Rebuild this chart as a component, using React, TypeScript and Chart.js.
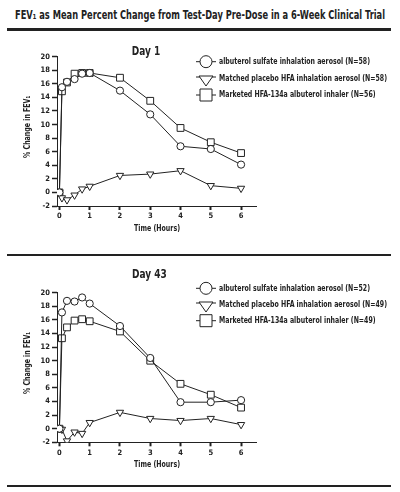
import { useEffect, useRef } from "react";
import { Chart, registerables } from "chart.js";

Chart.register(...registerables);

const FONT = "'Liberation Sans Narrow', 'DejaVu Sans Condensed', 'Arial Narrow', sans-serif";
const INK = "#222";

// time after dose, hours
const hours = [0, 0.083, 0.25, 0.5, 0.75, 1, 2, 3, 4, 5, 6];
const hourTicks = [0, 1, 2, 3, 4, 5, 6];

const day1Albuterol = [0, 15.5, 16.3, 16.7, 17.5, 17.6, 15.0, 11.5, 6.8, 6.4, 4.1];
const day1Placebo = [0, -0.8, -1.1, -0.4, 0.5, 0.9, 2.5, 2.7, 3.2, 1.0, 0.6];
const day1Marketed = [0, 14.9, 16.2, 17.5, 17.6, 17.6, 16.9, 13.5, 9.5, 7.4, 5.8];

const day43Albuterol = [0, 17.1, 18.8, 18.7, 19.3, 18.4, 15.1, 10.4, 3.9, 3.9, 4.2];
const day43Placebo = [0, -0.1, -1.8, -0.5, -0.7, 0.9, 2.4, 1.5, 1.2, 1.5, 0.6];
const day43Marketed = [0, 13.3, 14.9, 15.9, 16.1, 15.8, 14.3, 10.0, 6.6, 5.0, 3.1];

const day1Legend = [
  "albuterol sulfate inhalation aerosol (N=58)",
  "Matched placebo HFA inhalation aerosol (N=58)",
  "Marketed HFA-134a albuterol inhaler (N=56)",
];
const day43Legend = [
  "albuterol sulfate inhalation aerosol (N=52)",
  "Matched placebo HFA inhalation aerosol (N=49)",
  "Marketed HFA-134a albuterol inhaler (N=49)",
];

const pageTitle = "FEV\u2081 as Mean Percent Change from Test-Day Pre-Dose in a 6-Week Clinical Trial";
const xTitle = "Time (Hours)";
const yTitle = "% Change in FEV\u2081";

const shapes = ["circle", "triangle", "rect"];

type PanelProps = {
  title: string;
  legend: string[];
  series: number[][];
  top: number;
  height: number;
  areaTop: number;
  areaBottom: number;
  titleX: number;
  titleY: number;
  xTitleY: number;
  legendY: number[];
};

// the narrow face is not installed, so squeeze the fallback face horizontally
function narrowText(
  ctx: CanvasRenderingContext2D,
  text: string,
  x: number,
  y: number,
  squeeze: number,
  align: "left" | "center",
) {
  const w = ctx.measureText(text).width * squeeze;
  const left = align === "center" ? x - w / 2 : x;
  ctx.save();
  ctx.translate(left, y);
  ctx.scale(squeeze, 1);
  ctx.textAlign = "left";
  ctx.textBaseline = "middle";
  ctx.fillText(text, 0, 0);
  ctx.restore();
}

function drawLegendMark(ctx: CanvasRenderingContext2D, shape: string, cx: number, cy: number) {
  ctx.beginPath();
  if (shape === "triangle") {
    ctx.moveTo(cx - 10, cy - 2);
    ctx.lineTo(cx + 10, cy - 2);
  } else {
    ctx.moveTo(cx - 10, cy);
    ctx.lineTo(cx + 10, cy);
  }
  ctx.stroke();
  ctx.beginPath();
  if (shape === "circle") {
    ctx.arc(cx, cy, 6, 0, Math.PI * 2);
  } else if (shape === "triangle") {
    ctx.moveTo(cx - 7, cy - 3);
    ctx.lineTo(cx + 7, cy - 3);
    ctx.lineTo(cx, cy + 7);
    ctx.closePath();
  } else {
    ctx.rect(cx - 6, cy - 6, 12, 12);
  }
  ctx.fillStyle = "#fff";
  ctx.fill();
  ctx.stroke();
}

function Panel(props: PanelProps) {
  const ref = useRef<HTMLCanvasElement>(null);

  useEffect(() => {
    if (!ref.current) return;
    const xHeight = props.height - props.areaBottom;

    const decor = {
      id: "panelDecor",
      afterDraw(chart: Chart) {
        const ctx = chart.ctx;
        const area = chart.chartArea;
        ctx.save();
        ctx.fillStyle = INK;
        ctx.strokeStyle = INK;
        ctx.lineWidth = 1;

        ctx.font = `bold 13px ${FONT}`;
        const titleSqueeze = Math.min(1, 28.5 / ctx.measureText("Day 1").width);
        narrowText(ctx, props.title, props.titleX, props.titleY, titleSqueeze, "center");

        ctx.font = `bold 9px ${FONT}`;
        const legendSqueeze = Math.min(1, 168 / ctx.measureText(day1Legend[1]).width);
        props.legend.forEach((label, i) => {
          const y = props.legendY[i];
          drawLegendMark(ctx, shapes[i], 206, y);
          ctx.fillStyle = INK;
          narrowText(ctx, label, 219, y, legendSqueeze, "left");
        });

        const axisSqueeze = Math.min(1, 46 / ctx.measureText(xTitle).width);
        narrowText(ctx, xTitle, 157, props.xTitleY, axisSqueeze, "center");

        ctx.save();
        ctx.translate(28, (area.top + area.bottom) / 2 - 4.5);
        ctx.rotate(-Math.PI / 2);
        narrowText(ctx, yTitle, 0, 0, axisSqueeze, "center");
        ctx.restore();

        ctx.restore();
      },
    };

    const radii = [3.6, 4.2, 4.8];
    const chart = new Chart(ref.current, {
      type: "line",
      data: {
        datasets: props.series.map((values, i) => ({
          label: props.legend[i],
          data: values.map((v, j) => ({ x: hours[j], y: v })),
          borderColor: INK,
          borderWidth: 1,
          pointStyle: shapes[i] as any,
          pointRotation: shapes[i] === "triangle" ? 180 : 0,
          pointRadius: radii[i],
          pointBackgroundColor: "#fff",
          pointBorderColor: INK,
          pointBorderWidth: 1,
          tension: 0,
        })),
      },
      options: {
        animation: false,
        responsive: false,
        devicePixelRatio: 1,
        layout: { padding: { left: 0, top: props.areaTop, right: 143.8, bottom: 0 } },
        plugins: { legend: { display: false }, tooltip: { enabled: false }, title: { display: false } },
        scales: {
          x: {
            type: "linear",
            min: -0.08,
            max: 6.5,
            afterBuildTicks: (s: any) => {
              s.ticks = hourTicks.map((v) => ({ value: v }));
            },
            afterFit: (s: any) => {
              s.height = xHeight;
            },
            grid: { display: true, drawOnChartArea: false, drawTicks: true, tickLength: 4, tickWidth: 2, tickColor: INK },
            border: { display: true, color: INK, width: 1 },
            ticks: { color: INK, font: { family: FONT, size: 7.5, weight: "bold" }, padding: 2, maxRotation: 0, autoSkip: false },
          },
          y: {
            type: "linear",
            min: -2,
            max: 20,
            afterFit: (s: any) => {
              s.width = 57;
            },
            grid: { display: true, drawOnChartArea: false, drawTicks: true, tickLength: 5, tickWidth: 1.5, tickColor: INK },
            border: { display: true, color: INK, width: 1 },
            ticks: { stepSize: 2, color: INK, font: { family: FONT, size: 7.5, weight: "bold" }, padding: 2 },
          },
        },
      },
      plugins: [decor],
    });
    return () => {
      chart.destroy();
    };
  }, [ref]);

  return (
    <canvas
      ref={ref}
      width={400}
      height={props.height}
      style={{ position: "absolute", left: 0, top: props.top, width: 400, height: props.height }}
    />
  );
}

function PageTitle() {
  const ref = useRef<HTMLSpanElement>(null);
  useEffect(() => {
    const el = ref.current;
    if (!el) return;
    const w = el.getBoundingClientRect().width;
    if (w > 0) el.style.transform = `scaleX(${Math.min(1, 370 / w)})`;
  }, [ref]);
  return (
    <div style={{ position: "absolute", left: -300, top: 5, width: 1000, textAlign: "center", whiteSpace: "nowrap" }}>
      <span
        ref={ref}
        style={{
          display: "inline-block",
          transformOrigin: "50% 50%",
          fontFamily: FONT,
          fontWeight: "bold",
          fontSize: 12.5,
          color: INK,
          lineHeight: "16px",
        }}
      >
        {pageTitle}
      </span>
    </div>
  );
}

const rule = (top: number) => (
  <div style={{ position: "absolute", left: 7, width: 384, top, height: 2.8, background: INK }} />
);

export default function App() {
  return (
    <div style={{ position: "absolute", left: 0, top: 0, width: 400, height: 492, background: "#fff", overflow: "hidden" }}>
      <PageTitle />
      {rule(28)}
      <Panel
        title="Day 1"
        legend={day1Legend}
        series={[day1Albuterol, day1Placebo, day1Marketed]}
        top={32}
        height={208}
        areaTop={24.7}
        areaBottom={174}
        titleX={146}
        titleY={20}
        xTitleY={196.3}
        legendY={[29.7, 47, 63]}
      />
      {rule(253.5)}
      <Panel
        title="Day 43"
        legend={day43Legend}
        series={[day43Albuterol, day43Placebo, day43Marketed]}
        top={258}
        height={222}
        areaTop={34.7}
        areaBottom={184.3}
        titleX={149.5}
        titleY={17}
        xTitleY={207}
        legendY={[30.3, 47, 62.7]}
      />
      {rule(484.5)}
    </div>
  );
}
